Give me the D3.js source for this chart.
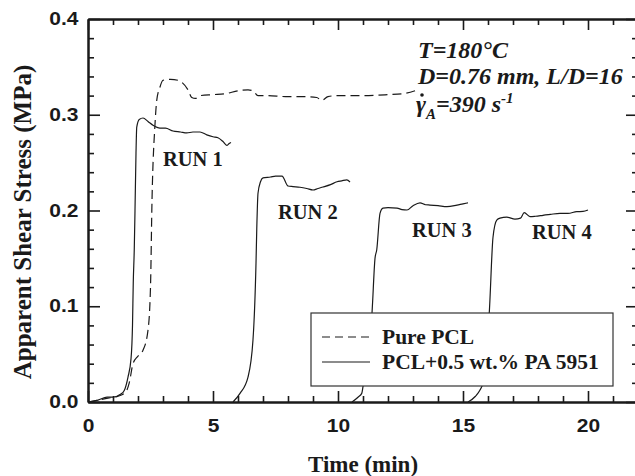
<!DOCTYPE html>
<html>
<head>
<meta charset="utf-8">
<script src="https://cdn.jsdelivr.net/npm/d3@7"></script>
<style>
  body { margin: 0; background: #fff; }
  svg { display: block; }
</style>
</head>
<body>
<script>
// data: [time (min), stress (MPa)]
var purePCL = [
  [0.0,0.000],[0.4,0.002],[0.8,0.004],[1.2,0.006],[1.5,0.010],[1.65,0.020],[1.8,0.040],
  [2.0,0.048],[2.2,0.054],[2.4,0.075],[2.5,0.120],[2.56,0.210],[2.68,0.290],[2.75,0.315],
  [2.88,0.329],[3.0,0.336],[3.3,0.337],[3.6,0.336],[3.75,0.334],[4.0,0.326],[4.15,0.318],
  [4.3,0.317],[4.5,0.320],[5.0,0.321],[5.5,0.322],[6.0,0.325],[6.4,0.326],[6.6,0.325],
  [6.8,0.320],[7.2,0.320],[7.9,0.319],[8.5,0.319],[9.15,0.318],[9.35,0.315],[9.6,0.319],
  [10.0,0.320],[11.0,0.320],[12.0,0.321],[12.6,0.322],[13.2,0.326]
];
var run1 = [
  [0.0,0.000],[0.4,0.002],[0.76,0.005],[1.0,0.005],[1.3,0.008],[1.45,0.012],[1.6,0.026],
  [1.72,0.045],[1.78,0.080],[1.81,0.124],[1.85,0.159],[1.88,0.200],[1.92,0.260],[1.95,0.287],
  [2.05,0.295],[2.2,0.2966],[2.4,0.293],[2.6,0.289],[2.88,0.286],[3.1,0.286],[3.4,0.283],
  [3.7,0.282],[3.95,0.281],[4.2,0.282],[4.48,0.282],[4.75,0.279],[5.0,0.277],[5.2,0.276],
  [5.4,0.272],[5.55,0.268],[5.65,0.270],[5.72,0.271]
];
var run2 = [
  [5.8,0.000],[6.08,0.009],[6.4,0.026],[6.6,0.065],[6.72,0.145],[6.75,0.180],[6.8,0.218],
  [6.9,0.230],[7.0,0.234],[7.3,0.235],[7.5,0.236],[7.76,0.236],[8.0,0.2256],[8.2,0.225],
  [8.48,0.2243],[8.75,0.223],[9.0,0.2214],[9.2,0.223],[9.4,0.2245],[9.7,0.227],[9.96,0.230],
  [10.15,0.231],[10.35,0.232],[10.48,0.2298]
];
var run3 = [
  [10.56,0.000],[10.8,0.005],[10.95,0.009],[11.0,0.016],[11.2,0.050],[11.36,0.093],
  [11.48,0.150],[11.55,0.159],[11.68,0.197],[11.8,0.2025],[12.0,0.203],[12.36,0.2025],
  [12.56,0.201],[12.76,0.2005],[13.0,0.205],[13.28,0.208],[13.5,0.206],[13.68,0.2057],
  [14.0,0.205],[14.36,0.204],[14.76,0.2057],[15.0,0.207],[15.2,0.208]
];
var run4 = [
  [15.2,0.000],[15.5,0.006],[15.68,0.0125],[15.8,0.020],[15.95,0.060],[16.05,0.093],
  [16.2,0.172],[16.35,0.190],[16.48,0.192],[16.75,0.193],[17.08,0.191],[17.3,0.192],
  [17.45,0.1977],[17.68,0.1936],[17.9,0.194],[18.2,0.195],[18.5,0.196],[18.88,0.197],
  [19.2,0.197],[19.55,0.1988],[19.8,0.199],[20.0,0.2005]
];

var runLabels = ["RUN 1", "RUN 2", "RUN 3", "RUN 4"];
// label anchors in data units (time, stress)
var runLabelAt = [[3.0,0.2465],[7.6,0.191],[12.96,0.172],[17.76,0.170]];

var xTicks = [0, 5, 10, 15, 20];
var yTicks = [0.0, 0.1, 0.2, 0.3, 0.4];
var legendItems = ["Pure PCL", "PCL+0.5 wt.% PA 5951"];

// layout
var W = 635, H = 476;
var m = {left: 88, top: 19, right: -3, bottom: 74};
var pw = W - m.left - m.right;
var ph = H - m.top - m.bottom;

var x = d3.scaleLinear().domain([0, 22]).range([0, pw]);
var y = d3.scaleLinear().domain([0, 0.4]).range([ph, 0]);

var svg = d3.select("body").append("svg")
    .attr("width", W)
    .attr("height", H);

var g = svg.append("g")
    .attr("transform", "translate(" + m.left + "," + m.top + ")");

var ink = "#1a1a1a";
var serif = "'Liberation Serif', 'Times New Roman', serif";

// curves
var line = d3.line()
    .x(function(d) { return x(d[0]); })
    .y(function(d) { return y(d[1]); })
    .curve(d3.curveMonotoneX);

g.append("path")
    .datum(purePCL)
    .attr("d", line)
    .attr("fill", "none")
    .attr("stroke", ink)
    .attr("stroke-width", 1.2)
    .attr("stroke-dasharray", "9,5");

[run1, run2, run3, run4].forEach(function(r) {
  g.append("path")
      .datum(r)
      .attr("d", line)
      .attr("fill", "none")
      .attr("stroke", ink)
      .attr("stroke-width", 1.2);
});

// axes, ticks pointing inward
function styleAxis(sel) {
  sel.select(".domain").attr("stroke", ink).attr("stroke-width", 2);
  sel.selectAll(".tick line").attr("stroke", ink).attr("stroke-width", 1.6);
  sel.selectAll("text")
      .attr("fill", ink)
      .attr("transform", "scale(1.2,1)")   // tick font in the figure is wide
      .style("font-family", "'Liberation Sans', Arial, sans-serif")
      .style("font-weight", "bold")
      .style("font-size", "17.5px");
}

var minorX = d3.range(0, 23, 1).filter(function(v) { return v % 5 != 0; });
var minorY = d3.range(0, 0.41, 0.02).filter(function(v) { return Math.abs(v * 10 - Math.round(v * 10)) > 1e-6; });

// bottom
g.append("g").attr("transform", "translate(0," + ph + ")")
    .call(d3.axisBottom(x).tickValues(minorX).tickSize(-6).tickSizeOuter(0).tickFormat(""))
    .call(styleAxis);
g.append("g").attr("transform", "translate(0," + ph + ")")
    .call(d3.axisBottom(x).tickValues(xTicks).tickSize(-11).tickSizeOuter(0).tickPadding(18).tickFormat(d3.format("d")))
    .call(styleAxis);
// top
g.append("g")
    .call(d3.axisTop(x).tickValues(minorX).tickSize(-6).tickSizeOuter(0).tickFormat(""))
    .call(styleAxis);
g.append("g")
    .call(d3.axisTop(x).tickValues(xTicks).tickSize(-11).tickSizeOuter(0).tickFormat(""))
    .call(styleAxis);
// left
g.append("g")
    .call(d3.axisLeft(y).tickValues(minorY).tickSize(-6).tickSizeOuter(0).tickFormat(""))
    .call(styleAxis);
g.append("g")
    .call(d3.axisLeft(y).tickValues(yTicks).tickSize(-12).tickSizeOuter(0).tickPadding(8).tickFormat(d3.format(".1f")))
    .call(styleAxis);
// right
g.append("g").attr("transform", "translate(" + pw + ",0)")
    .call(d3.axisRight(y).tickValues(minorY).tickSize(-6).tickSizeOuter(0).tickFormat(""))
    .call(styleAxis);
g.append("g").attr("transform", "translate(" + pw + ",0)")
    .call(d3.axisRight(y).tickValues(yTicks).tickSize(-12).tickSizeOuter(0).tickFormat(""))
    .call(styleAxis);

// axis titles
svg.append("text")
    .attr("x", m.left + x(11))
    .attr("y", 472)
    .attr("text-anchor", "middle")
    .style("font-family", serif)
    .style("font-weight", "bold")
    .style("font-size", "23px")
    .attr("fill", ink)
    .text("Time (min)");

svg.append("text")
    .attr("transform", "translate(31,222) rotate(-90)")
    .attr("text-anchor", "middle")
    .style("font-family", serif)
    .style("font-weight", "bold")
    .style("font-size", "25px")
    .attr("fill", ink)
    .text("Apparent Shear Stress (MPa)");

// run labels
g.selectAll(".runlab")
    .data(runLabels)
    .enter().append("text")
    .attr("class", "runlab")
    .attr("x", function(d, i) { return x(runLabelAt[i][0]); })
    .attr("y", function(d, i) { return y(runLabelAt[i][1]); })
    .style("font-family", serif)
    .style("font-weight", "bold")
    .style("font-size", "20.5px")
    .attr("fill", ink)
    .text(function(d) { return d; });

// conditions annotation
var note = svg.append("g")
    .style("font-family", serif)
    .style("font-weight", "bold")
    .style("font-style", "italic")
    .style("font-size", "24px")
    .attr("fill", ink);
note.append("text").attr("x", 418).attr("y", 58).text("T=180°C");
note.append("text").attr("x", 418).attr("y", 84).text("D=0.76 mm, L/D=16");
var gam = note.append("text").attr("x", 416).attr("y", 112);
gam.append("tspan").text("γ");
gam.append("tspan").attr("dy", 7).style("font-size", "15px").text("A");
gam.append("tspan").attr("dy", -7).text("=390 s");
gam.append("tspan").attr("dy", -9).style("font-size", "15px").text("-1");
// dot over gamma
note.append("circle").attr("cx", 422).attr("cy", 95).attr("r", 1.8).attr("fill", ink);

// legend
var lg = svg.append("g").attr("transform", "translate(311,313)");
lg.append("rect")
    .attr("width", 302)
    .attr("height", 73)
    .attr("fill", "#fff")
    .attr("stroke", "#333")
    .attr("stroke-width", 1.2);
lg.selectAll(".li")
    .data(legendItems)
    .enter().append("g")
    .attr("class", "li")
    .attr("transform", function(d, i) { return "translate(0," + (24 + i * 25) + ")"; })
    .each(function(d, i) {
      var s = d3.select(this);
      s.append("line")
          .attr("x1", 11).attr("x2", 59)
          .attr("y1", 0).attr("y2", 0)
          .attr("stroke", ink)
          .attr("stroke-width", 1.2)
          .attr("stroke-dasharray", i == 0 ? "8,5" : null);
      s.append("text")
          .attr("x", 71)
          .attr("y", 7)
          .style("font-family", serif)
          .style("font-weight", "bold")
          .style("font-size", "21.5px")
          .attr("fill", ink)
          .text(d);
    });
</script>
</body>
</html>
